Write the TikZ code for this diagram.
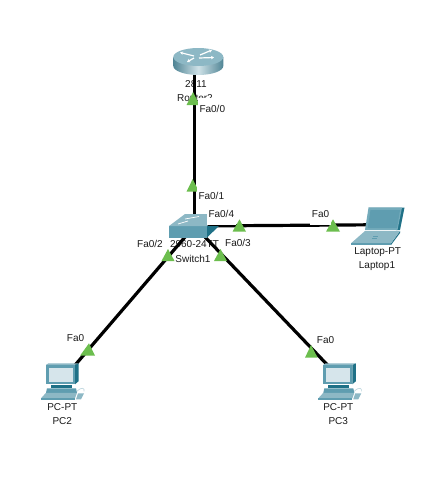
\documentclass[tikz,border=0pt]{standalone}
\usepackage{fontspec}
\setmainfont{Liberation Sans}
\usetikzlibrary{arrows.meta}
\definecolor{gr}{HTML}{6CBE4E}
\definecolor{tealA}{HTML}{5F9DB0}
\definecolor{tealB}{HTML}{8DB8C5}
\definecolor{tealC}{HTML}{1F7187}
\definecolor{tealD}{HTML}{74ABBB}
\definecolor{scr}{HTML}{D6E5EB}
\tikzset{
  x=1pt,y=-1pt,
  txt/.style={font=\fontsize{10}{12}\selectfont,inner sep=0pt,text=black!90},
  lnk/.style={font=\fontsize{10}{12}\selectfont,fill=white,inner xsep=2pt,inner ysep=0pt,minimum height=22pt,anchor=west,text=black!90},
  wire/.style={line width=3.2pt,black},
  tri/.style={fill=gr,draw=none},
  pics/pcicon/.style={code={
    \fill[tealC] (29,1.5)--(32.5,0)--(32.5,18)--(29,21)--cycle;
    \fill[tealB] (0,1.5)--(2.5,0)--(32.5,0)--(29,1.5)--cycle;
    \fill[tealA] (0,1.5) rectangle (29,21);
    \fill[scr] (2.5,4.5) rectangle (27,19);
    \fill[tealC] (5,21.5) rectangle (26,25);
    \fill[tealA] (1,25) -- (30,25) -- (31,29.5) -- (0,29.5) -- cycle;
    \fill[tealB] (0,29.5) -- (31,29.5) -- (29,35) -- (-5,35) -- cycle;
    \fill[tealA] (-5,35) rectangle (29,36.5);
    \fill[tealB] (32,30) -- (38,30) -- (35,36) -- (30,36) -- cycle;
    \draw[tealB!60,line width=.6pt] (31,28) .. controls (36,23) and (39,25) .. (38,28);
  }},
}
\begin{document}
\begin{tikzpicture}
\useasboundingbox (0,0) rectangle (438,485);
\fill[white] (0,0) rectangle (438,485);
% device labels
\node[txt] (rtA) at (196,84.5) {2811};
\node[txt] (rtB) at (195,98) {Router2};
\node[txt] (swA) at (194.5,244) {2960-24TT};
\node[txt] (swB) at (193,259) {Switch1};
\node[txt] (lapA) at (377.7,252.3) {Laptop-PT};
\node[txt] (lapB) at (377,266) {Laptop1};
\node[txt] (pcaA) at (62.3,407) {PC-PT};
\node[txt] (pcaB) at (62.3,420.7) {PC2};
\node[txt] (pcbA) at (338.3,407) {PC-PT};
\node[txt] (pcbB) at (338.3,420.7) {PC3};
% connection points
\coordinate (rt) at (194.5,65);
\coordinate (sw) at (194.5,226);
\coordinate (lap) at (370,224.8);
\coordinate (pca) at (64,378);
\coordinate (pcb) at (338,376);
\draw[wire] (rt) -- (sw);
\draw[wire] (sw) -- (lap);
\draw[wire] (sw) -- (pca);
\draw[wire] (sw) -- (pcb);
% router
\path[left color=tealA!85!black,right color=tealA!85!black,middle color=white!70!tealA]
  (173.3,57) -- (173.3,66) .. controls (173.3,71) and (185,75) .. (198.3,75)
  .. controls (212,75) and (223.3,71) .. (223.3,66) -- (223.3,57) -- cycle;
\fill[tealB] (198.3,57) ellipse[x radius=25,y radius=9];
\draw[white,line width=1.2pt,-{Stealth[length=3pt,width=3.5pt]}] (194,56) -- (180,52.5);
\draw[white,line width=1.2pt,-{Stealth[length=3pt,width=3.5pt]}] (200,55) -- (212,50);
\draw[white,line width=1.2pt,-{Stealth[length=3pt,width=3.5pt]}] (199,58) -- (214,57.5);
\draw[white,line width=1.2pt,-{Stealth[length=3pt,width=3.5pt]}] (194,58) -- (187,62);
% switch
\fill[tealA] (169,226) rectangle (207,238);
\fill[tealC] (207,226) -- (219,226) -- (207,237.5) -- cycle;
\fill[tealB] (169,226) -- (185,214) -- (221,214) -- (207,226) -- cycle;
\draw[white,line width=.7pt] (178,224) -- (188,221);
\draw[white,line width=.7pt] (185,219) -- (199,216.5);
% laptop
\fill[tealC] (368.5,207.7) -- (404.5,207.7) -- (400,230) -- (396,230) -- cycle;
\fill[tealD] (368.5,207.7) -- (402,207.7) -- (397.5,230) -- (365,230) -- cycle;
\fill[tealA] (370.5,210) -- (400,210) -- (397,228) -- (367.7,228) -- cycle;
\fill[tealC] (391,243.3) -- (400,231) -- (400,233) -- (391,245) -- cycle;
\fill[tealB] (365,231) -- (400,231) -- (391,243.3) -- (351,243.3) -- cycle;
\fill[tealA] (351,243.3) rectangle (391,245);
\draw[tealA,line width=.7pt] (372,238) -- (377,238) (373,236.5) -- (378,236.5);
% PCs
\pic at (46,363.3) {pcicon};
\pic at (323.3,363.3) {pcicon};
% interface triangles
\fill[tri] (193,92) -- (199.5,105) -- (186.5,105) -- cycle;
\fill[tri] (192.7,179) -- (199,191.7) -- (186.5,191.7) -- cycle;
\fill[tri] (239.5,219.3) -- (246,231.7) -- (232.5,231.7) -- cycle;
\fill[tri] (333,219.3) -- (340,231.7) -- (326,231.7) -- cycle;
\fill[tri] (168,249) -- (174.5,261) -- (161.5,261) -- cycle;
\fill[tri] (220.5,249) -- (227,261) -- (214,261) -- cycle;
\fill[tri] (89,343.3) -- (95,355.7) -- (80,355.7) -- cycle;
\fill[tri] (311,345) -- (317.7,357.7) -- (305,357.7) -- cycle;
% link labels
\node[lnk] (lA) at (197.3,109) {Fa0/0};
\node[lnk] (lB) at (196.3,196) {Fa0/1};
\node[lnk] (lC) at (206.3,214) {Fa0/4};
\node[lnk,minimum height=14pt] (lD) at (135,244) {Fa0/2};
\node[lnk,minimum height=14pt] (lE) at (223,243) {Fa0/3};
\node[lnk] (lF) at (309.7,214) {Fa0};
\node[lnk,minimum height=14pt] (lG) at (64.7,337.7) {Fa0};
\node[lnk,minimum height=14pt] (lH) at (314.7,340) {Fa0};
\end{tikzpicture}
\end{document}
